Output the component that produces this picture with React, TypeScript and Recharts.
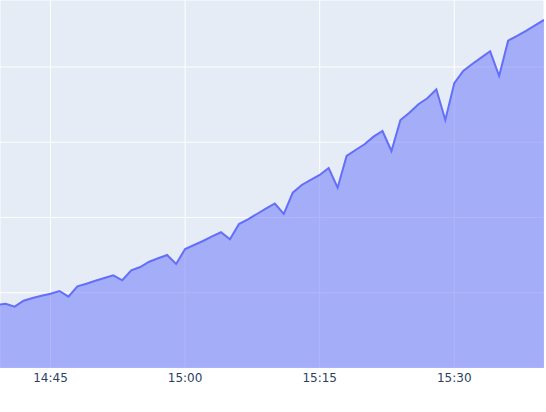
import React from "react";
import { AreaChart, Area, XAxis, YAxis, CartesianGrid } from "recharts";

// time labels (one point per minute)
const times: string[] = [
  "14:39", "14:40", "14:41", "14:42", "14:43", "14:44", "14:45", "14:46", "14:47", "14:48",
  "14:49", "14:50", "14:51", "14:52", "14:53", "14:54", "14:55", "14:56", "14:57", "14:58",
  "14:59", "15:00", "15:01", "15:02", "15:03", "15:04", "15:05", "15:06", "15:07", "15:08",
  "15:09", "15:10", "15:11", "15:12", "15:13", "15:14", "15:15", "15:16", "15:17", "15:18",
  "15:19", "15:20", "15:21", "15:22", "15:23", "15:24", "15:25", "15:26", "15:27", "15:28",
  "15:29", "15:30", "15:31", "15:32", "15:33", "15:34", "15:35", "15:36", "15:37", "15:38",
  "15:39", "15:40",
];

const values: number[] = [
  16.74, 17.09, 16.29, 17.89, 18.6, 19.22, 19.75, 20.47, 18.95, 21.71,
  22.41, 23.2, 23.92, 24.64, 23.31, 25.97, 26.84, 28.25, 29.16, 30.03,
  27.64, 31.63, 32.69, 33.75, 35.0, 36.07, 34.21, 38.27, 39.52, 40.93,
  42.34, 43.72, 40.93, 46.59, 48.64, 49.97, 51.3, 53.16, 47.92, 56.35,
  57.94, 59.46, 61.48, 62.99, 57.67, 65.91, 67.86, 70.09, 71.68, 74.07,
  65.91, 75.67, 78.94, 80.8, 82.47, 84.17, 77.61, 86.99, 88.24, 89.57,
  91.08, 92.49,
];

const xTicks: string[] = ["14:45", "15:00", "15:15", "15:30"];
const yTicks: number[] = [20, 40, 60, 80];

const toMin = (t: string) => {
  const [h, m] = t.split(":").map(Number);
  return (h - 14) * 60 + m;
};
const fmt = (v: number) => {
  const h = 14 + Math.floor(v / 60);
  const m = Math.round(v % 60);
  return `${h}:${m.toString().padStart(2, "0")}`;
};

const data = times.map((t, i) => ({ x: toMin(t), y: values[i] }));
const xDomain: [number, number] = [39.372, 100];
const yDomain: [number, number] = [0, 97.8];

export default function App() {
  return (
    <div style={{ position: "absolute", left: 0, top: 0, background: "#fff" }}>
      <AreaChart
        width={546}
        height={412}
        data={data}
        margin={{ top: 0, right: 2, left: 0, bottom: 0 }}
      >
        <CartesianGrid fill="#E5ECF6" stroke="#ffffff" strokeWidth={1} fillOpacity={1} />
        <XAxis
          dataKey="x"
          type="number"
          domain={xDomain}
          allowDataOverflow
          ticks={xTicks.map(toMin)}
          tickFormatter={fmt}
          height={44}
          axisLine={false}
          tickLine={false}
          tickSize={5}
          tickMargin={0}
          tick={{ fill: "#2a3f5f", fontSize: 12, fontFamily: "Verdana, 'DejaVu Sans', sans-serif" }}
        />
        <YAxis
          hide
          type="number"
          domain={yDomain}
          ticks={yTicks}
          allowDataOverflow
        />
        <Area
          type="linear"
          dataKey="y"
          stroke="#636efa"
          strokeWidth={2}
          fill="#636efa"
          fillOpacity={0.5}
          isAnimationActive={false}
          dot={false}
          activeDot={false}
        />
      </AreaChart>
    </div>
  );
}
